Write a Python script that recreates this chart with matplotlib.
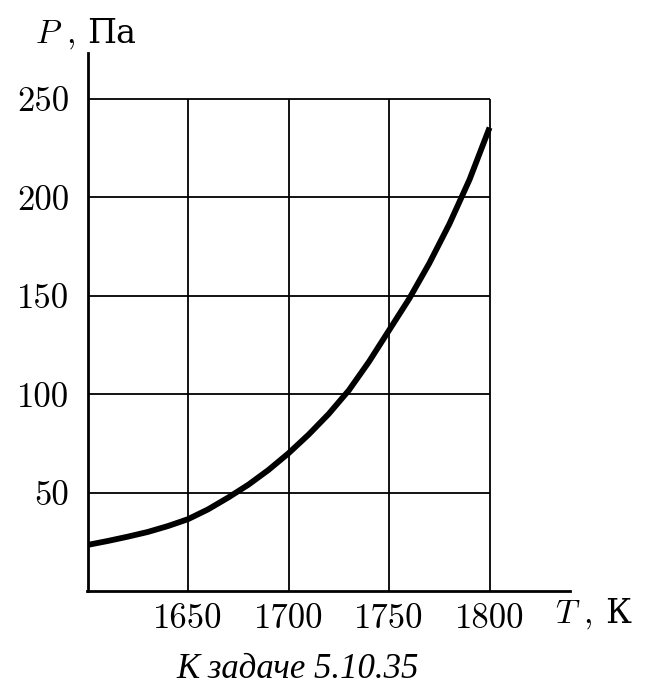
import matplotlib
matplotlib.use("Agg")
import matplotlib.pyplot as plt

plt.rcParams['mathtext.fontset'] = 'cm'
plt.rcParams['font.family'] = ['cmr10', 'DejaVu Serif']

# Data
T = [1600, 1610, 1620, 1630, 1640, 1650, 1660, 1670, 1680, 1690, 1700,
     1710, 1720, 1730, 1740, 1750, 1760, 1770, 1780, 1790, 1800]
P = [23.4, 25.4, 27.6, 30.0, 33.0, 36.5, 41.5, 47.5, 54.0, 61.5, 70.0,
     79.5, 90.0, 102.0, 116.5, 132.5, 148.5, 166.5, 186.5, 209.0, 235.5]

x_ticks = [1650, 1700, 1750, 1800]
y_ticks = [50, 100, 150, 200, 250]
x_labels = ['1650', '1700', '1750', '1800']
y_labels = ['50', '100', '150', '200', '250']
x_min, x_max_axis = 1600, 1840
y_min, y_max_axis = 0, 273.4
x_var, x_unit = '$T$', 'К'
y_var, y_unit = '$P$', 'Па'
caption = 'К задаче 5.10.35'

W, H = 672, 689
fig = plt.figure(figsize=(W / 100, H / 100), dpi=100)
left, right, top, bottom = 87.5, 570, 53, 591
ax = fig.add_axes([left / W, (H - bottom) / H, (right - left) / W, (bottom - top) / H])
ax.set_xlim(x_min, x_max_axis)
ax.set_ylim(y_min, y_max_axis)

for s in ['top', 'right']:
    ax.spines[s].set_visible(False)
for s in ['left', 'bottom']:
    ax.spines[s].set_linewidth(2.0)

# grid lines (bounded to the data frame)
ax.vlines(x_ticks, y_min, y_ticks[-1], colors='black', linewidth=1.3)
ax.hlines(y_ticks, x_min, x_ticks[-1], colors='black', linewidth=1.3)

ax.plot(T, P, color='black', linewidth=4.2, solid_capstyle='butt')

ax.set_xticks(x_ticks, x_labels, fontfamily='cmr10')
ax.set_yticks(y_ticks, y_labels, fontfamily='cmr10')
ax.tick_params(axis='both', length=0, labelsize=25)
ax.tick_params(axis='x', pad=9)
ax.tick_params(axis='y', pad=13)

def px(x, y):
    return x / W, 1 - y / H

lab_size = 24
# y-axis label  "P, Па"
fig.text(*px(35, 43), y_var, fontsize=lab_size, ha='left', va='baseline')
fig.text(*px(66, 43), ',', fontsize=lab_size, ha='left', va='baseline')
fig.text(*px(87, 43), y_unit, fontsize=lab_size, ha='left', va='baseline',
         family=['DejaVu Serif'])
# x-axis label  "T, К"
fig.text(*px(555, 623), x_var, fontsize=lab_size, ha='left', va='baseline')
fig.text(*px(583, 623), ',', fontsize=lab_size, ha='left', va='baseline')
fig.text(*px(605, 623), x_unit, fontsize=lab_size, ha='left', va='baseline',
         family=['DejaVu Serif'])

fig.text(*px(298, 670), caption, fontsize=25, style='italic',
         family='Liberation Serif', ha='center', va='center')

fig.savefig('out.png', dpi=100)
